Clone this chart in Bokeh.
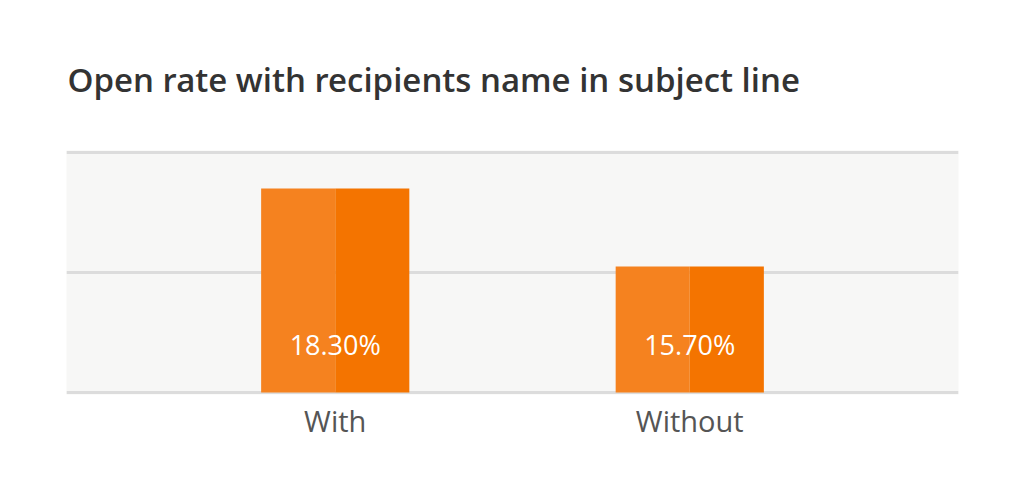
from bokeh.plotting import figure
from bokeh.models import ColumnDataSource, FactorRange, Range1d, FixedTicker
from bokeh.transform import dodge
from bokeh.core.properties import value
from bokeh.embed import file_html
from bokeh.resources import INLINE

categories = ["With", "Without"]
open_rates = [18.30, 15.70]
labels = ["18.30%", "15.70%"]
y_ticks = [11.5, 15.5, 19.5]

FONT = "Open Sans"
bar_w = 0.418
label_y = 13.1
pad = 2.0 / 30.0  # a couple of pixels so the edge grid lines are not clipped

src = ColumnDataSource(dict(cat=categories, rate=open_rates, label=labels,
                            ly=[label_y] * len(categories)))

p = figure(width=1008, height=482, output_backend="svg", toolbar_location=None,
           x_range=FactorRange(*categories, range_padding=0.258, range_padding_units="absolute"),
           y_range=Range1d(y_ticks[0] - pad, y_ticks[-1] + pad),
           min_border_left=66, min_border_right=50, min_border_top=150, min_border_bottom=88,
           title="Open rate with recipients name in subject line")

p.title.text_font = "Open Sans SemiBold"
p.title.text_font_size = "33px"
p.title.text_font_style = "normal"
p.title.text_color = "#333333"
p.title.align = "left"
p.title.offset = 1
p.title.standoff = 98

p.background_fill_color = "#f7f7f6"
p.border_fill_color = "white"
p.outline_line_color = None

p.vbar(x=dodge("cat", -bar_w / 4, range=p.x_range), top="rate", bottom=y_ticks[0],
       width=bar_w / 2, source=src, fill_color="#f5821f", line_color=None)
p.vbar(x=dodge("cat", bar_w / 4, range=p.x_range), top="rate", bottom=y_ticks[0],
       width=bar_w / 2, source=src, fill_color="#f47400", line_color=None)

p.text(x="cat", y="ly", text="label", source=src, text_align="center",
       text_baseline="middle", text_color="white", text_font=value(FONT),
       text_font_size="27px")

p.xgrid.grid_line_color = None
p.ygrid.ticker = FixedTicker(ticks=y_ticks)
p.ygrid.grid_line_color = "#dcdcdc"
p.ygrid.grid_line_width = 3
p.ygrid.level = "underlay"

p.yaxis.visible = False
p.xaxis.axis_line_color = None
p.xaxis.major_tick_line_color = None
p.xaxis.minor_tick_line_color = None
p.xaxis.major_label_text_font = FONT
p.xaxis.major_label_text_font_size = "29px"
p.xaxis.major_label_text_color = "#555555"
p.xaxis.major_label_standoff = 0

open("out.html", "w").write(file_html(p, INLINE))
